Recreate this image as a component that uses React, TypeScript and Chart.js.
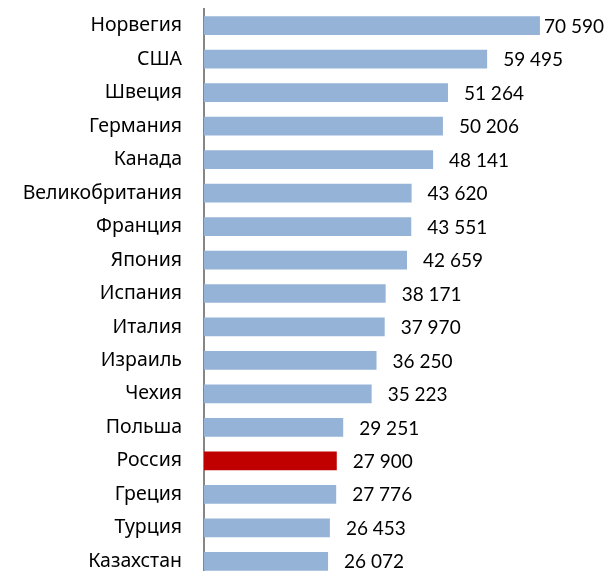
import React, { useEffect, useRef } from "react";
import { Chart, registerables } from "chart.js";

Chart.register(...registerables);

const countries = [
  "Норвегия", "США", "Швеция", "Германия", "Канада", "Великобритания", "Франция", "Япония",
  "Испания", "Италия", "Израиль", "Чехия", "Польша", "Россия", "Греция", "Турция", "Казахстан",
];
const values = [
  70590, 59495, 51264, 50206, 48141, 43620, 43551, 42659,
  38171, 37970, 36250, 35223, 29251, 27900, 27776, 26453, 26072,
];
const highlight = "Россия";

const CAT_FONT = "'Noto Sans', sans-serif";
const VAL_FONT = "Lato, 'Noto Sans', sans-serif";

const fmt = (v: number) => String(v).replace(/\B(?=(\d{3})+(?!\d))/g, " ");

const valueLabels = {
  id: "valueLabels",
  afterDatasetsDraw(chart: any) {
    const ctx = chart.ctx;
    const meta = chart.getDatasetMeta(0);
    ctx.save();
    ctx.font = `19px ${VAL_FONT}`;
    ctx.fillStyle = "#000";
    ctx.textBaseline = "middle";
    ctx.textAlign = "left";
    meta.data.forEach((bar: any, i: number) => {
      const t = fmt(values[i]);
      const w = ctx.measureText(t).width;
      let x = bar.x + 16;
      if (x + w > 604) x = 604 - w;
      ctx.fillText(t, x, bar.y + 1);
    });
    ctx.restore();
  },
};

export default function App() {
  const ref = useRef<HTMLCanvasElement>(null);
  useEffect(() => {
    if (!ref.current) return;
    const chart = new Chart(ref.current, {
      type: "bar",
      data: {
        labels: countries,
        datasets: [
          {
            data: values,
            backgroundColor: countries.map((c) => (c === highlight ? "#C00000" : "#95B3D7")),
            borderWidth: 0,
            categoryPercentage: 1,
            barPercentage: 0.56,
          },
        ],
      },
      options: {
        indexAxis: "y",
        responsive: false,
        animation: false,
        layout: { padding: { top: 9, right: 9, left: 0, bottom: 0 } },
        plugins: { legend: { display: false }, tooltip: { enabled: false } },
        scales: {
          x: { display: false, min: 0, max: 83000 },
          y: {
            afterFit: (s: any) => {
              s.width = 204;
              s.paddingTop = 0;
              s.paddingBottom = 0;
            },
            grid: { display: false, drawTicks: false },
            border: { display: true, color: "#868686", width: 2 },
            ticks: {
              color: "#000",
              padding: 22,
              font: { family: CAT_FONT, size: 19.5 },
            },
          },
        },
      },
      plugins: [valueLabels],
    });
    return () => chart.destroy();
  }, []);
  return (
    <div style={{ position: "fixed", left: 0, top: 0, width: 608, height: 571, overflow: "hidden", background: "#fff" }}>
      <canvas ref={ref} width={608} height={578} style={{ display: "block" }} />
    </div>
  );
}
